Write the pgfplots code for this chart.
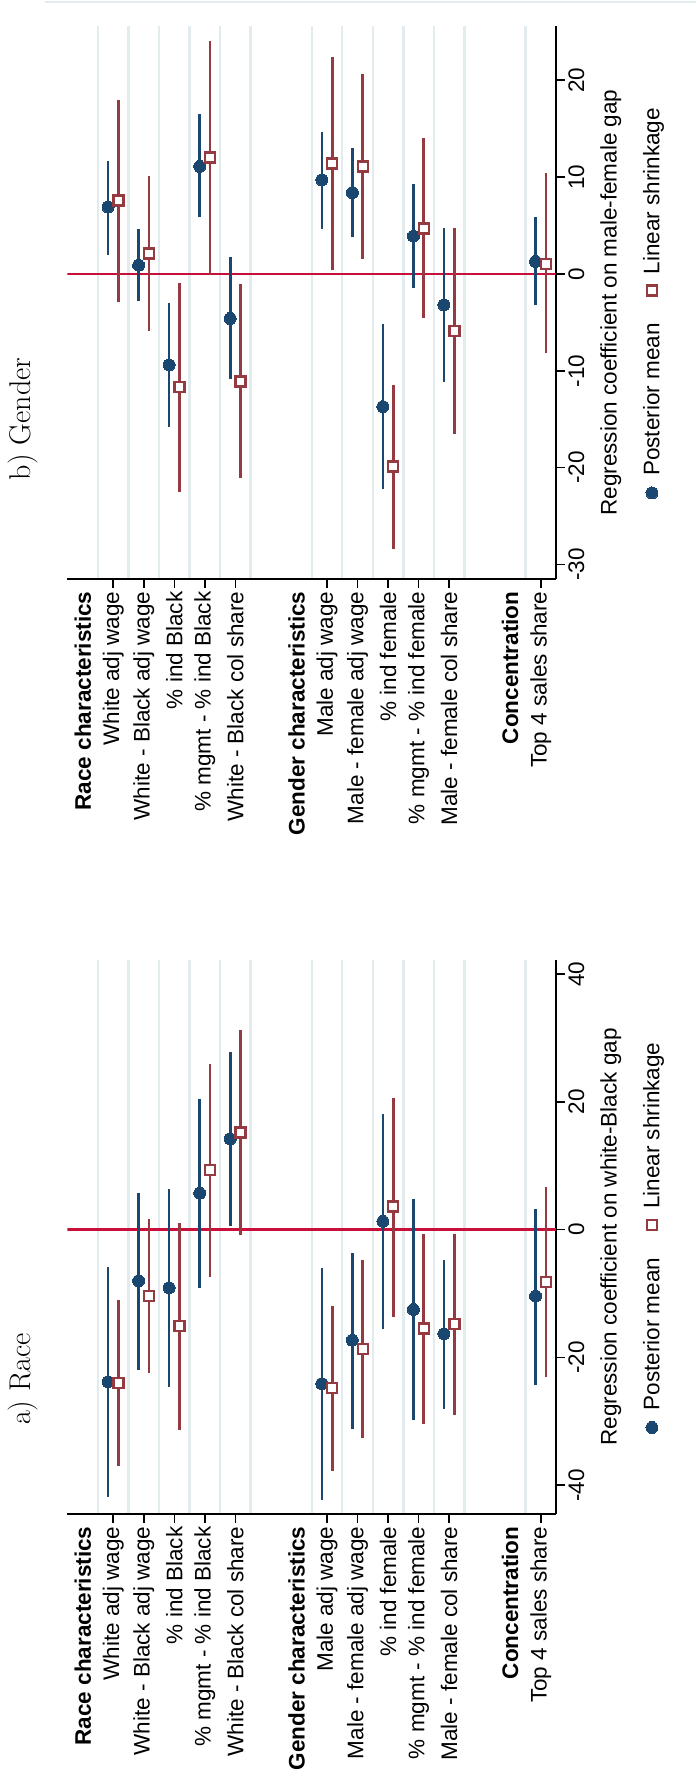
\documentclass[border=0pt]{standalone}
\usepackage{pgfplots}
\usepackage{pgfplotstable}
\pgfplotsset{compat=1.18}
\usepackage{fontspec}
\usepackage{graphicx}
\newfontfamily\arial{Liberation Sans}
\definecolor{navy}{HTML}{1A476F}
\definecolor{maroon}{HTML}{943A40}
\definecolor{zerored}{HTML}{C8103A}
\definecolor{gridc}{HTML}{E2ECEF}
\newcommand\lab{\arial\fontsize{22.5}{27}\selectfont}

% y = -(category position) -/+ offset ; m = estimate ; lo, hi = interval
\pgfplotstableread{
y      m      lo     hi
-1.83  -23.8  -41.9  -5.8
-2.83  -8.0   -21.9  5.7
-3.83  -9.1   -24.7  6.3
-4.83  5.7    -9.2   20.5
-5.83  14.2   0.5    27.8
-8.83  -24.1  -42.3  -6.0
-9.83  -17.3  -31.2  -3.6
-10.83 1.3    -15.5  18.1
-11.83 -12.5  -29.8  4.8
-12.83 -16.3  -28.0  -4.8
-15.83 -10.4  -24.3  3.3
}\ablue
\pgfplotstableread{
y      m      lo     hi
-2.17  -24.0  -37.0  -11.0
-3.17  -10.4  -22.5  1.6
-4.17  -15.1  -31.3  1.0
-5.17  9.3    -7.4   25.9
-6.17  15.2   -0.8   31.3
-9.17  -24.8  -37.7  -12.0
-10.17 -18.7  -32.6  -4.8
-11.17 3.6    -13.6  20.6
-12.17 -15.5  -30.4  -0.7
-13.17 -14.8  -29.0  -0.7
-16.17 -8.2   -23.0  6.7
}\ared
\pgfplotstableread{
y      m      lo     hi
-1.83  6.9    2.0    11.7
-2.83  0.9    -2.8   4.6
-3.83  -9.4   -15.8  -3.0
-4.83  11.1   5.9    16.5
-5.83  -4.6   -10.9  1.7
-8.83  9.7    4.6    14.7
-9.83  8.4    3.8    13.0
-10.83 -13.7  -22.2  -5.2
-11.83 3.9    -1.5   9.3
-12.83 -3.2   -11.2  4.7
-15.83 1.3    -3.2   5.9
}\bblue
\pgfplotstableread{
y      m      lo     hi
-2.17  7.6    -2.9   18.0
-3.17  2.1    -5.9   10.1
-4.17  -11.7  -22.5  -0.9
-5.17  12.0   -0.1   24.1
-6.17  -11.1  -21.1  -1.0
-9.17  11.4   0.4    22.4
-10.17 11.1   1.5    20.6
-11.17 -19.9  -28.4  -11.5
-12.17 4.7    -4.6   14.0
-13.17 -5.9   -16.5  4.7
-16.17 1.0    -8.2   10.4
}\bred

\pgfplotsset{coefstyle/.style={
  scale only axis, height=488.5pt, anchor=south west,
  axis x line*=bottom, axis y line*=left,
  axis line style={line width=1.6pt, black},
  tick align=outside, major tick length=9pt,
  major tick style={line width=1.6pt, black},
  ymin=-16.5, ymax=-0.5,
  ytick={-2,-3,-4,-5,-6,-9,-10,-11,-12,-13,-16},
  yticklabels={White adj wage, White - Black adj wage, \% ind Black, \% mgmt - \% ind Black, White - Black col share,
    Male adj wage, Male - female adj wage, \% ind female, \% mgmt - \% ind female, Male - female col share,
    Top 4 sales share},
  extra y ticks={-1,-8,-15},
  extra y tick labels={\textbf{Race characteristics},\textbf{Gender characteristics},\textbf{Concentration}},
  extra y tick style={major tick style={draw=none}},
  minor ytick={-1.5,-2.5,-3.5,-4.5,-5.5,-6.5,-8.5,-9.5,-10.5,-11.5,-12.5,-13.5,-15.5},
  yminorgrids=true, minor tick length=0pt,
  minor grid style={gridc, line width=2.4pt},
  ticklabel style={font=\lab},
  xlabel style={font=\lab, at={(axis description cs:0.5,0)}, anchor=north, yshift=-44pt, inner sep=0pt},
  legend columns=2,
  legend style={at={(0.5,-0.1965)}, anchor=center, draw=none, fill=none, font=\lab,
    /tikz/every odd column/.append style={column sep=9pt},
    /tikz/every even column/.append style={column sep=26pt}},
  legend cell align=left,
}}
\pgfplotsset{
  bluestyle/.style={only marks, mark=*, mark size=6pt, navy,
    mark options={fill=navy, draw=navy, line width=0pt},
    error bars/.cd, x dir=both, x explicit, error mark=none,
    error bar style={line width=2.6pt, navy}},
  redstyle/.style={only marks, mark=square*, mark size=5pt, maroon,
    mark options={fill=white, draw=maroon, line width=2.4pt},
    error bars/.cd, x dir=both, x explicit, error mark=none,
    error bar style={line width=2.6pt, maroon}},
}

\begin{document}
\rotatebox{90}{%
\begin{tikzpicture}
\path[use as bounding box] (0pt,0pt) rectangle (1779pt,696pt);
\draw[gridc, line width=1.2pt] (1777pt,0pt) -- (1777pt,651pt);
\begin{axis}[coefstyle, at={(265pt,140pt)}, width=554pt,
  xmin=-44.5, xmax=42.2, xtick={-40,-20,0,20,40}, xticklabels={-40,-20,0,20,40},
  xlabel={Regression coefficient on white-Black gap}]
\addplot[zerored, line width=2.4pt, forget plot] coordinates {(0,-16.5) (0,-0.5)};
\addplot[bluestyle] table[x=m, y=y, x error plus expr=\thisrow{hi}-\thisrow{m}, x error minus expr=\thisrow{m}-\thisrow{lo}] {\ablue};
\addplot[redstyle] table[x=m, y=y, x error plus expr=\thisrow{hi}-\thisrow{m}, x error minus expr=\thisrow{m}-\thisrow{lo}] {\ared};
\legend{Posterior mean, Linear shrinkage}
\end{axis}
\begin{axis}[coefstyle, at={(1200pt,140pt)}, width=553pt,
  xmin=-31.5, xmax=25.6, xtick={-30,-20,-10,0,10,20}, xticklabels={-30,-20,-10,0,10,20},
  xlabel={Regression coefficient on male-female gap}]
\addplot[zerored, line width=2.4pt, forget plot] coordinates {(0,-16.5) (0,-0.5)};
\addplot[bluestyle] table[x=m, y=y, x error plus expr=\thisrow{hi}-\thisrow{m}, x error minus expr=\thisrow{m}-\thisrow{lo}] {\bblue};
\addplot[redstyle] table[x=m, y=y, x error plus expr=\thisrow{hi}-\thisrow{m}, x error minus expr=\thisrow{m}-\thisrow{lo}] {\bred};
\legend{Posterior mean, Linear shrinkage}
\end{axis}
\node[font=\fontsize{30}{35}\selectfont] at (400pt,673pt) {a) Race};
\node[font=\fontsize{30}{35}\selectfont] at (1360pt,673pt) {b) Gender};
\end{tikzpicture}}
\end{document}
